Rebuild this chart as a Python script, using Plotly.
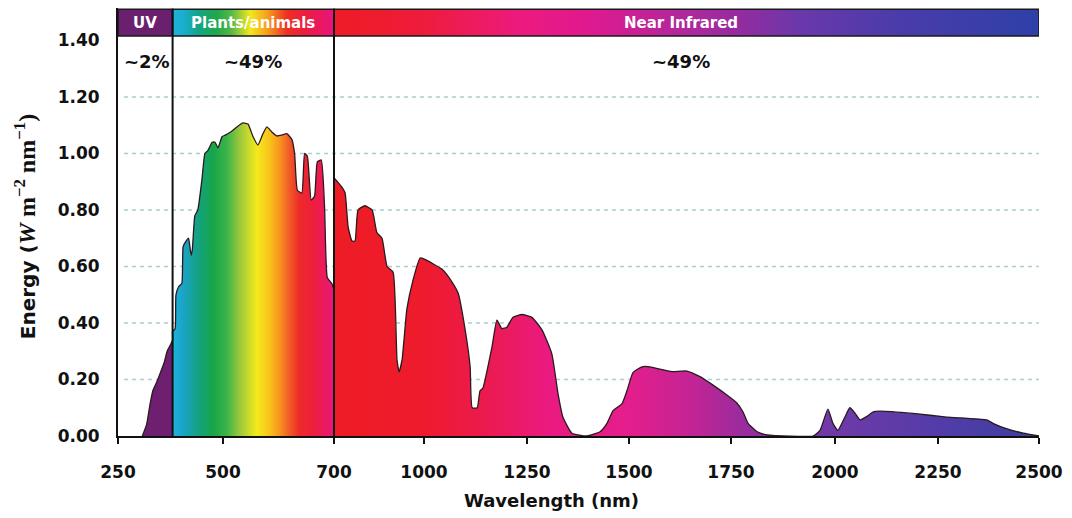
import numpy as np
import plotly.graph_objects as go

# ---------------- data ----------------
wavelength_nm = [
    308, 318, 326, 333, 342, 350, 360, 367, 374, 380,
    380, 386, 388, 395, 402, 405, 412, 418, 424, 427, 433, 440, 450, 457, 464,
    474, 481, 488, 498, 504, 513, 525, 536, 545, 554, 563, 572, 579, 588, 597,
    606, 615, 624, 629, 634, 642, 647, 652, 659, 665, 670, 677, 683, 688, 696, 700,
    700, 703, 727, 737, 747, 760, 770, 780, 803, 827, 843, 860, 877, 897, 910,
    917, 927, 943, 963, 987, 1002, 1044, 1068, 1083, 1100, 1112, 1117, 1129, 1136,
    1143, 1165, 1177, 1189, 1201, 1216, 1238, 1262, 1287, 1311, 1326, 1338, 1360,
    1397, 1429, 1446, 1461, 1483, 1495, 1510, 1532, 1551, 1581, 1605, 1642, 1674,
    1706, 1740, 1764, 1779, 1791, 1813, 1837, 1947, 1964, 1983, 1995, 2007, 2024,
    2036, 2049, 2061, 2078, 2092, 2109, 2189, 2272, 2371, 2386, 2421, 2461, 2500,
]
energy = [
    0.0, 0.04, 0.11, 0.16, 0.19, 0.22, 0.26, 0.30, 0.32, 0.34,
    0.37, 0.38, 0.50, 0.53, 0.54, 0.67, 0.69, 0.70, 0.64, 0.66, 0.78, 0.80, 0.91, 1.00, 1.01,
    1.04, 1.04, 1.02, 1.06, 1.065, 1.075, 1.094, 1.108, 1.104, 1.06, 1.03, 1.07, 1.094, 1.076, 1.062,
    1.065, 1.07, 1.05, 1.00, 0.87, 0.86, 1.00, 0.99, 0.835, 0.85, 0.97, 0.977, 0.81, 0.56, 0.54, 0.52,
    0.91, 0.91, 0.88, 0.86, 0.74, 0.69, 0.69, 0.80, 0.815, 0.80, 0.72, 0.70, 0.60, 0.58, 0.27,
    0.227, 0.27, 0.45, 0.55, 0.63, 0.625, 0.59, 0.545, 0.505, 0.375, 0.245, 0.10, 0.10, 0.16,
    0.17, 0.315, 0.41, 0.38, 0.385, 0.42, 0.43, 0.42, 0.375, 0.29, 0.15, 0.067, 0.01,
    0.0, 0.015, 0.045, 0.09, 0.115, 0.16, 0.225, 0.245, 0.245, 0.235, 0.228, 0.23, 0.21,
    0.18, 0.145, 0.117, 0.085, 0.045, 0.015, 0.004, 0.0, 0.02, 0.095, 0.045, 0.02, 0.067,
    0.10, 0.08, 0.057, 0.07, 0.085, 0.088, 0.08, 0.067, 0.057, 0.045, 0.025, 0.01, 0.0,
]

tick_nm = [250, 500, 700, 1000, 1250, 1500, 1750, 2000, 2250, 2500]
tick_text = [str(t) for t in tick_nm]
y_ticks = [0.0, 0.2, 0.4, 0.6, 0.8, 1.0, 1.2, 1.4]
y_tick_text = [f"{v:.2f}" for v in y_ticks]

region_names = ["UV", "Plants/animals", "Near Infrared"]
region_edges = [250, 380, 700, 2500]
region_shares = ["~2%", "~49%", "~49%"]

# ---------------- axis scale (piecewise, as drawn in the original) ----------------
AXIS_BREAK_POS = [0, 105, 216, 306, 409, 511, 613, 717, 820, 921]


def warp(nm):
    return np.interp(nm, tick_nm, AXIS_BREAK_POS)


X0, X1 = float(warp(tick_nm[0])), float(warp(tick_nm[-1]))
Y_TOP = 1.515
BAR_BOTTOM, BAR_TOP = 1.416, 1.511
SHARE_Y = 1.324


def scale(stops, lo, hi):
    out = []
    prev = -1.0
    for nm, c in stops:
        v = (float(warp(nm)) - lo) / (hi - lo)
        v = min(max(v, 0.0), 1.0)
        if v <= prev:
            v = min(prev + 1e-4, 1.0)
        out.append([v, c])
        prev = v
    return out


spectrum_stops = [
    (250, "#6e1f70"), (379.5, "#6e1f70"), (380.5, "#1db3dc"), (405, "#1aa3c8"),
    (445, "#13a27a"), (476, "#17a54a"), (507, "#3bb54a"), (530, "#9ac83c"),
    (561, "#f3ea1b"), (584, "#f9c31b"), (602, "#f7941d"), (620, "#f05a28"),
    (638, "#ee2a2a"), (662, "#ee1e3c"), (699.5, "#e9177a"), (700.5, "#ee1c24"),
    (1000, "#ee1b2e"), (1150, "#ec1a4e"), (1300, "#ea1a80"), (1500, "#e41e8c"),
    (1650, "#c42494"), (1780, "#9a2c9e"), (2000, "#6e3aa8"), (2250, "#543ca8"),
    (2500, "#3a3fa0"),
]

bar_stops = [
    [(250, "#6b1f6f"), (380, "#6b1f6f")],
    [(380, "#1cb4d8"), (405, "#1aaed0"), (440, "#14a58a"), (485, "#1ea84a"),
     (515, "#56b848"), (549, "#f2e81c"), (579, "#f8a01c"), (615, "#ee3024"),
     (650, "#ec1c40"), (700, "#e8147e")],
    [(700, "#ee1c25"), (990, "#ee1c3a"), (1233, "#ec1a7e"), (1400, "#e0198f"),
     (1677, "#a82a9e"), (1755, "#982a9f"), (1915, "#6a38aa"), (2155, "#4a3caa"),
     (2500, "#2e40a8")],
]

fig = go.Figure()

# spectrum
fig.add_trace(go.Scatter(
    x=warp(wavelength_nm), y=energy, mode="lines",
    line=dict(color="#2b1a1e", width=1.3, shape="spline", smoothing=0.45),
    fill="tozeroy",
    fillgradient=dict(type="horizontal", colorscale=scale(spectrum_stops, X0, X1),
                      start=X0, stop=X1),
    hoverinfo="skip", showlegend=False,
))

# top region bars
for i, name in enumerate(region_names):
    a, b = float(warp(region_edges[i])), float(warp(region_edges[i + 1]))
    fig.add_trace(go.Scatter(
        x=[a, b, b, a, a], y=[BAR_BOTTOM, BAR_BOTTOM, BAR_TOP, BAR_TOP, BAR_BOTTOM],
        mode="lines", line=dict(color="#1a1a1a", width=1.5),
        fill="toself",
        fillgradient=dict(type="horizontal", colorscale=scale(bar_stops[i], a, b),
                          start=a, stop=b),
        hoverinfo="skip", showlegend=False,
    ))

shapes = []
# dotted gridlines
for v in y_ticks[1:-1]:
    shapes.append(dict(type="line", xref="x", yref="y", x0=X0 + 6, x1=X1, y0=v, y1=v,
                       line=dict(color="#a9cfd0", width=1.5, dash="4px,4px"), layer="below"))
# region boundary lines
for e in region_edges[1:-1]:
    xe = float(warp(e))
    shapes.append(dict(type="line", xref="x", yref="y", x0=xe, x1=xe, y0=0, y1=BAR_TOP,
                       line=dict(color="#111111", width=2), layer="above"))

annotations = []
for i, name in enumerate(region_names):
    a, b = float(warp(region_edges[i])), float(warp(region_edges[i + 1]))
    xs = -6 if i == 2 else 0
    annotations.append(dict(x=(a + b) / 2, y=(BAR_BOTTOM + BAR_TOP) / 2, xref="x", yref="y",
                            text=name, showarrow=False, xshift=xs,
                            font=dict(family="DejaVu Sans", size=15, color="white", weight="bold")))
    annotations.append(dict(x=(a + b) / 2, y=SHARE_Y, xref="x", yref="y",
                            text=region_shares[i], showarrow=False, xshift=xs + (2 if i == 0 else 0),
                            font=dict(family="DejaVu Sans", size=18, color="#111111", weight="bold")))

annotations.append(dict(x=0.471, y=-0.15, xref="paper", yref="paper", text="Wavelength (nm)",
                        showarrow=False, yanchor="middle",
                        font=dict(family="DejaVu Sans", size=18, color="#111111", weight="bold")))
annotations.append(dict(
    x=-0.101, y=0.49, xref="paper", yref="paper", textangle=-90, showarrow=False,
    xanchor="center", yanchor="middle",
    text="Energy (<span style='font-family:Liberation Serif;font-size:24px'>"
         "<i>W</i> m<sup>\u22122</sup> nm<sup>\u22121</sup>)</span>",
    font=dict(family="DejaVu Sans", size=20, color="#111111", weight="bold")))

fig.update_layout(
    width=1072, height=518,
    margin=dict(l=118, r=33, t=8, b=82),
    paper_bgcolor="white", plot_bgcolor="white",
    shapes=shapes, annotations=annotations,
    xaxis=dict(range=[X0, X1], tickvals=warp(tick_nm), ticktext=tick_text,
               showgrid=False, zeroline=False, showline=True, linecolor="#111111", linewidth=2,
               ticks="outside", ticklen=6, tickwidth=2, tickcolor="#111111",
               ticklabelstandoff=14,
               tickfont=dict(family="DejaVu Sans", size=17, color="#111111", weight="bold")),
    yaxis=dict(range=[0, Y_TOP], tickvals=y_ticks, ticktext=y_tick_text,
               showgrid=False, zeroline=False, showline=True, linecolor="#111111", linewidth=2,
               ticks="", ticklabelstandoff=13,
               tickfont=dict(family="DejaVu Sans", size=17, color="#111111", weight="bold")),
)

fig.write_html("out.html")
